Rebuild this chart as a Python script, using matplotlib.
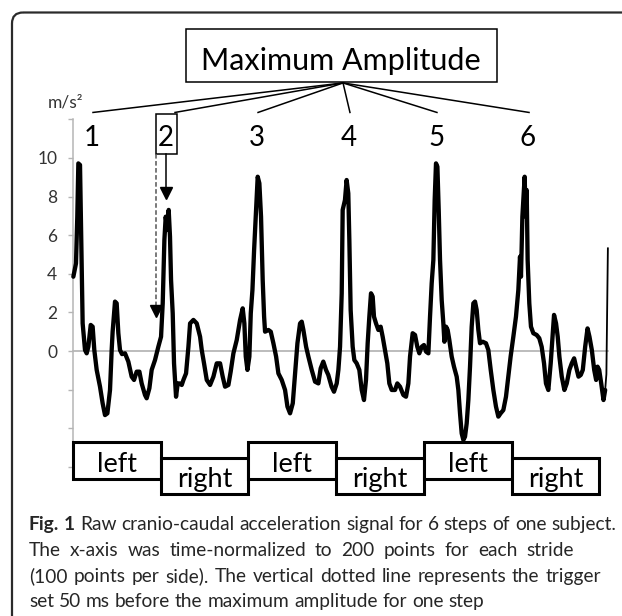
import matplotlib
matplotlib.use("Agg")
import matplotlib.pyplot as plt
from matplotlib.patches import Rectangle, FancyBboxPatch

# ---------------- data ----------------
# normalized time (points; 100 points per side) and cranio-caudal acceleration (m/s^2)
t = [0.4, 3.4, 4.9, 6.1, 8.0, 9.9, 11.0, 13.7, 15.6, 17.5,
     20.2, 22.4, 24.3, 27.0, 30.8, 33.8, 36.5, 39.2, 42.2, 44.1,
     45.2, 47.9, 49.8, 51.7, 53.6, 55.9, 59.3, 63.1, 66.9, 69.6,
     72.6, 75.7, 78.3, 82.1, 84.0, 87.1, 89.7, 93.5, 97.3, 100.4,
     102.3, 104.2, 105.7, 107.6, 109.1, 110.6, 111.8, 113.7, 115.2, 117.5,
     119.4, 121.3, 124.0, 125.9, 128.9, 131.6, 133.5, 137.3, 141.1, 143.0,
     144.9, 146.8, 149.4, 152.5, 156.3, 160.1, 163.9, 167.7, 170.7, 173.4,
     177.2, 179.8, 182.9, 186.7, 190.5, 193.5, 195.4, 197.0, 198.9, 201.1,
     202.7, 204.6, 206.5, 208.7, 210.6, 212.5, 214.4, 216.3, 217.9, 219.0,
     222.8, 225.5, 228.5, 231.6, 234.2, 238.0, 241.8, 244.5, 247.5, 250.6,
     253.2, 255.9, 258.9, 260.8, 262.7, 265.8, 268.4, 272.2, 276.0, 279.8,
     282.4, 285.4, 288.5, 291.1, 294.9, 297.6, 300.7, 302.6, 304.5, 306.4,
     307.5, 310.1, 312.0, 313.9, 315.1, 316.6, 318.9, 320.8, 323.5, 326.5,
     329.2, 331.8, 334.1, 336.0, 337.9, 339.8, 341.7, 343.2, 345.5, 348.2,
     350.8, 353.1, 355.8, 358.4, 360.7, 363.4, 367.2, 369.8, 372.9, 376.7,
     379.7, 382.4, 384.3, 387.3, 390.0, 392.6, 394.9, 397.6, 400.2, 402.5,
     405.2, 407.1, 409.0, 410.9, 412.4, 413.9, 415.5, 417.0, 418.5, 420.4,
     422.3, 423.5, 425.4, 427.2, 429.1, 431.8, 434.4, 437.5, 439.4, 441.3,
     443.2, 445.1, 447.0, 448.9, 450.8, 452.7, 454.6, 456.5, 458.4, 460.3,
     462.2, 464.1, 467.2, 470.9, 473.6, 476.3, 479.3, 482.3, 485.0, 487.6,
     490.7, 493.7, 496.4, 499.0, 502.1, 505.1, 507.8, 509.7, 510.8, 512.4,
     513.9, 515.0, 516.2, 517.3, 518.4, 520.3, 522.2, 524.9, 528.7, 531.7,
     534.4, 537.1, 539.3, 542.0, 544.7, 547.0, 548.5, 550.8, 552.7, 554.6,
     557.3, 560.3, 563.0, 566.0, 568.7, 571.4, 573.6, 576.4, 579.0, 581.3,
     584.0, 586.7, 588.9, 591.6, 594.3, 596.5, 598.1, 600.0, 602.3, 604.9,
     606.8]
acc = [3.85, 4.54, 6.96, 9.72, 9.64, 4.54, 1.43, 0.05, -0.12, 0.22,
       1.35, 1.26, 0.05, -0.98, -1.85, -2.71, -3.32, -3.23, -2.02, 0.05,
       1.0, 2.56, 2.47, 0.92, 0.05, -0.16, -0.12, -0.55, -1.33, -1.5,
       -1.07, -1.07, -1.68, -2.28, -2.45, -1.93, -0.98, -0.47, 0.22, 0.74,
       2.47, 5.75, 6.96, 6.27, 7.31, 5.92, 3.68, 1.95, -0.64, -2.37,
       -1.68, -1.68, -1.76, -1.5, -1.16, 0.22, 1.43, 1.61, 1.43, 1.09,
       0.74, 0.05, -0.64, -1.5, -1.76, -1.33, -0.64, -0.64, -1.33, -1.85,
       -1.76, -1.07, -0.12, 0.57, 1.61, 2.21, 1.43, -0.29, -0.98, -0.29,
       1.95, 3.16, 5.23, 7.31, 9.03, 8.69, 6.96, 3.68, 1.78, 1.0,
       1.09, 1.0, 0.4, -0.29, -1.16, -1.5, -2.02, -2.88, -3.23, -2.71,
       -1.16, 0.4, 1.43, 1.52, 1.09, 0.22, -0.29, -0.98, -1.59, -1.68,
       -0.9, -0.55, -0.98, -1.24, -1.85, -2.11, -1.68, -0.98, 0.22, 2.99,
       7.31, 7.82, 8.86, 8.17, 5.75, 2.12, 0.22, -0.47, -0.64, -0.98,
       -2.02, -2.54, -1.5, 0.4, 1.78, 2.99, 2.82, 1.78, 1.43, 1.09,
       1.26, 0.74, 0.05, -0.64, -1.68, -2.02, -2.02, -1.68, -1.85, -2.28,
       -2.37, -1.68, -0.29, 0.92, 0.83, 0.22, -0.12, 0.22, 0.31, -0.03,
       -0.12, 1.78, 3.51, 4.72, 7.82, 9.72, 9.55, 7.31, 4.72, 2.64,
       1.43, 0.48, 1.26, 1.09, 0.57, -0.29, -0.81, -1.33, -2.02, -3.23,
       -4.27, -4.61, -4.44, -3.75, -2.54, -0.81, 1.26, 2.47, 2.56, 2.12,
       1.09, 0.4, 0.48, 0.4, 0.05, -0.98, -2.02, -2.88, -3.4, -3.23,
       -3.06, -2.37, -1.33, -0.29, 0.74, 1.78, 3.16, 4.89, 3.85, 6.96,
       8.17, 9.03, 6.96, 8.34, 4.72, 2.47, 1.26, 0.92, 0.83, 0.66,
       0.22, -0.64, -1.68, -2.02, -0.64, 0.92, 1.87, 1.43, 0.74, -0.29,
       -1.33, -2.02, -1.68, -0.98, -0.64, -0.38, -0.81, -1.33, -1.24, -0.98,
       0.22, 1.17, 0.74, 0.05, -0.98, -1.5, -0.81, -0.98, -1.68, -2.54,
       -2.02]
# thin final spike at the end of the recording
tail_t = [606.8, 608.2, 609.9]
tail_acc = [-2.02, -1.2, 5.32]

# y ticks
yticks = [-6, -4, -2, 0, 2, 4, 6, 8, 10, 12]
ytick_labels = ["", "", "", "0", "2", "4", "6", "8", "10", ""]

# step annotation
step_labels = ["1", "2", "3", "4", "5", "6"]
step_label_x = [21.7, 106.0, 209.8, 314.7, 415.0, 518.8]
fan_end_x = [22.8, 116.3, 211.0, 315.8, 415.0, 520.0]
sides = ["left", "right", "left", "right", "left", "right"]
points_per_side = 100
trigger_x = 94.3
trigger_tip = 1.78
max_x = 105.7
max_tip = 7.91

caption_lines = [
    [("Fig.", "bold"), ("1", "bold"), "Raw", "cranio-caudal", "acceleration", "signal",
     "for", "6", "steps", "of", "one", "subject."],
    "The x-axis was time-normalized to 200 points for each stride".split(),
    "(100 points per side). The vertical dotted line represents the trigger".split(),
    "set 50 ms before the maximum amplitude for one step".split(),
]

# ---------------- figure ----------------
FONT = "Lato"
CAP_FONT = "Lato"
plt.rcParams["font.family"] = [FONT, "DejaVu Sans"]

W, H = 622, 616
fig = plt.figure(figsize=(W / 100, H / 100), dpi=100)
fig.patch.set_facecolor("white")

# overlay in pixel coordinates for frame and caption
ov = fig.add_axes([0, 0, 1, 1])
ov.set_xlim(0, W)
ov.set_ylim(H, 0)
ov.axis("off")

# main axes: x 0..620 points -> 73..616.7 px ; y -6..12 -> 466.8..119.4 px
px_per_pt = 0.877
left_px, top_px, bot_px = 73.0, 119.4, 466.8
ax = fig.add_axes([left_px / W, (H - bot_px) / H, 620 * px_per_pt / W, (bot_px - top_px) / H])
ax.set_xlim(0, 620)
ax.set_ylim(-6, 12)
ax.patch.set_visible(False)
for s in ["top", "right", "bottom"]:
    ax.spines[s].set_visible(False)
ax.spines["left"].set_color("#b5b5b5")
ax.spines["left"].set_linewidth(1.1)
ax.set_xticks([])
ax.set_yticks(yticks)
ax.set_yticklabels(ytick_labels)
ax.tick_params(axis="y", direction="out", length=3.8, width=1.0, color="#b5b5b5",
               labelcolor="#333333", labelsize=12.5, pad=7.5)

# zero line
ax.plot([0, 610], [0, 0], color="#a9a9a9", lw=1.1, zorder=1, clip_on=False)

# signal
ax.plot(t, acc, color="black", lw=3.1, solid_joinstyle="round", solid_capstyle="round",
        zorder=3, clip_on=False)
ax.plot(tail_t, tail_acc, color="black", lw=1.3, zorder=3, clip_on=False)

# side boxes
for i, side in enumerate(sides):
    x0 = i * points_per_side
    if side == "left":
        y0, y1, base = -6.63, -4.72, -6.27
    else:
        y0, y1, base = -7.41, -5.54, -7.05
    ax.add_patch(Rectangle((x0, y0), points_per_side, y1 - y0, facecolor="white",
                           edgecolor="black", lw=2.2, zorder=4, clip_on=False))
    ax.text(x0 + points_per_side / 2, base, side, ha="center", va="baseline",
            fontsize=19.5, color="black", zorder=5, clip_on=False)

# Maximum Amplitude box and fan
ax.add_patch(Rectangle((128.8, 13.94), 354.7, 2.74, facecolor="white", edgecolor="black",
                       lw=1.1, zorder=4, clip_on=False))
ax.text(305.5, 14.55, "Maximum Amplitude", ha="center", va="baseline", fontsize=22,
        color="black", zorder=5, clip_on=False)
apex = (307.9, 13.89)
for fx in fan_end_x:
    ax.plot([apex[0], fx], [apex[1], 12.36], color="black", lw=1.1, zorder=4, clip_on=False)

for lab, lx in zip(step_labels, step_label_x):
    ax.text(lx, 10.62, lab, ha="center", va="baseline", fontsize=20, color="black",
            zorder=5, clip_on=False)
ax.add_patch(Rectangle((94.6, 10.2), 24.0, 2.08, facecolor="none", edgecolor="black",
                       lw=1.1, zorder=5, clip_on=False))

# arrows
ax.plot([max_x, max_x], [10.2, max_tip + 0.4], color="black", lw=1.1, zorder=5, clip_on=False)
ax.plot([max_x], [max_tip + 0.27], marker="v", ms=8, color="black", mec="black", zorder=6,
        clip_on=False)
ax.plot([trigger_x, trigger_x], [10.2, trigger_tip + 0.4], color="#555555", lw=1.1,
        ls=(0, (3.0, 1.6)), zorder=5, clip_on=False)
ax.plot([trigger_x], [trigger_tip + 0.27], marker="v", ms=8, color="black", mec="black",
        zorder=6, clip_on=False)

# unit label
ax.text(-8, 12.9, "m/s²", ha="center", va="center", fontsize=12.5, color="#333333",
        clip_on=False)

# ---------------- frame ----------------
ov.add_patch(FancyBboxPatch((12, 12.5), 800, 800, boxstyle="round,pad=0,rounding_size=11",
                            facecolor="none", edgecolor="#2b2b2b", lw=1.6))

# ---------------- caption ----------------
renderer = fig.canvas.get_renderer()
cap_color = "#262626"


def norm(words):
    return [(w, "normal") if isinstance(w, str) else w for w in words]


def width(s, fs, weight):
    tx = ov.text(0, 0, s, fontsize=fs, fontweight=weight, family=[CAP_FONT, "DejaVu Sans"])
    w = tx.get_window_extent(renderer).width
    tx.remove()
    return w


fs0 = 13.0
l1 = norm(caption_lines[0])
nat = sum(width(w, fs0, wt) for w, wt in l1) + (len(l1) - 1) * (width("a a", fs0, "normal") - width("aa", fs0, "normal"))
fs = fs0 * 587.0 / nat

x_left = 29.0
right_ends = [616.0, 574.0, 601.0, 484.0]
baselines = [530.0, 556.0, 581.7, 606.7]
for words, x_right, yb in zip(caption_lines, right_ends, baselines):
    words = norm(words)
    ws = [width(w, fs, wt) for w, wt in words]
    gap = (x_right - x_left - sum(ws)) / (len(words) - 1)
    x = x_left
    for (w, wt), ww in zip(words, ws):
        ov.text(x, yb, w, fontsize=fs, fontweight=wt, family=[CAP_FONT, "DejaVu Sans"],
                color=cap_color, ha="left", va="baseline")
        x += ww + gap

fig.savefig("out.png", dpi=100)
